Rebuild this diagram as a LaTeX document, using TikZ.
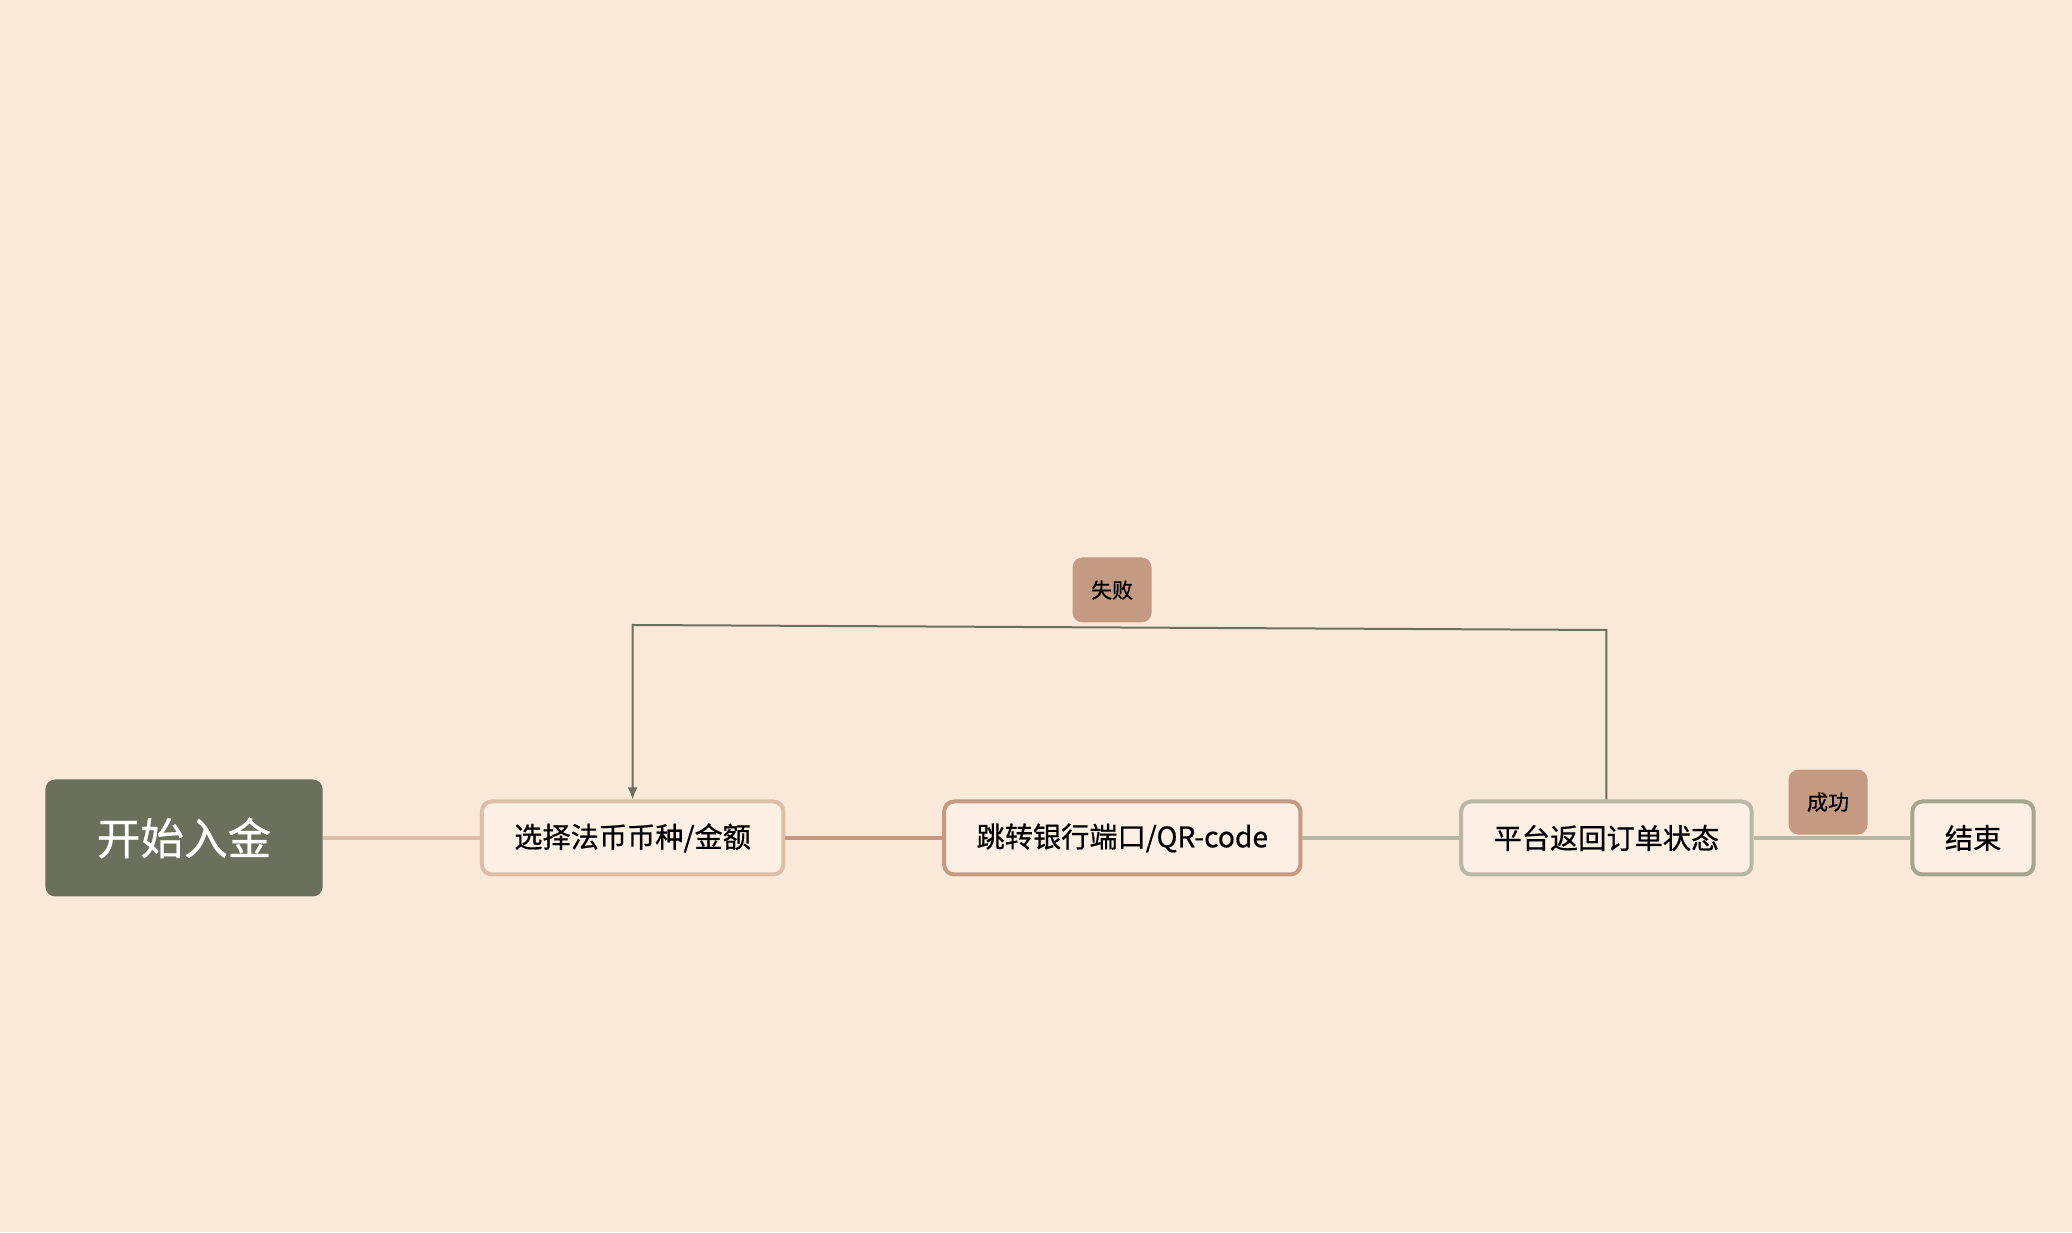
\documentclass[tikz,border=0pt]{standalone}
\usepackage{fontspec}
\setmainfont{Noto Sans CJK SC}[FakeBold=0.6]
\usetikzlibrary{positioning,arrows.meta,calc}
\definecolor{paper}{HTML}{FAE9D8}
\definecolor{boxfill}{HTML}{FCF0E4}
\definecolor{olivedark}{HTML}{6B705C}
\definecolor{sand}{HTML}{DDBEA9}
\definecolor{clay}{HTML}{C49A83}
\definecolor{tagfill}{HTML}{C49A83}
\definecolor{sage}{HTML}{B7B7A4}
\definecolor{moss}{HTML}{A5A58D}

\tikzset{
  flow/.style={
    every node/.style={rounded corners=5pt,inner ysep=0pt,align=center},
    box/.style={
        draw,
        line width=2pt,
        fill=boxfill,
        minimum height=36.5pt,
        inner xsep=16.2pt,
        font=\fontsize{14.1pt}{16pt}\selectfont,
    },
    root/.style={
        fill=olivedark,
        text=white,
        minimum height=58.5pt,
        inner xsep=25.75pt,
        font=\fontsize{21.8pt}{24pt}\selectfont,
    },
    tag/.style={
        fill=tagfill,
        minimum width=39.5pt,
        minimum height=32.5pt,
        inner xsep=0pt,
        font=\fontsize{10.5pt}{12pt}\selectfont,
    },
    link/.style={line width=2pt},
    back/.style={line width=1pt,draw=olivedark,-{Latex[length=6pt,width=5pt]}},
    node distance=78.4pt
  }
}

\begin{document}
\begin{tikzpicture}[flow]
    \fill[paper] (0,0) rectangle (1036pt,616pt);
    \node[root] (start) at (92pt,197pt) {开始入金};
    \node[box,draw=sand,right=of start] (choose) {选择法币币种/金额};
    \node[box,draw=clay,right=of choose] (jump) {跳转银行端口/QR-code};
    \node[box,draw=sage,right=of jump] (status) {平台返回订单状态};
    \node[box,draw=moss,right=of status] (finish) {结束};

    \draw[link,sand] (start) -- (choose);
    \draw[link,clay] (choose) -- (jump);
    \draw[link,sage] (jump) -- (status);
    \draw[link,sage] (status) -- (finish);

    \draw[back] (status.north) -- (status.north |- 0,301pt) -- (choose.north |- 0,303.5pt) -- (choose.north);

    \node[tag] (fail) at (556pt,321pt) {失败};
    \node[tag,anchor=south] (done) at ($(status.east)!.5!(finish.west)+(-2pt,1.5pt)$) {成功};
\end{tikzpicture}
\end{document}
